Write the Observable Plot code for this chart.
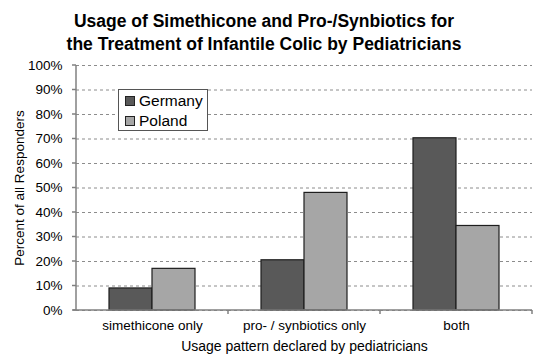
<!DOCTYPE html>
<html>
<head>
<meta charset="utf-8">
<script src="https://cdn.jsdelivr.net/npm/d3@7"></script>
<script src="https://cdn.jsdelivr.net/npm/@observablehq/plot@0.6"></script>
<style>
  html, body { margin: 0; padding: 0; background: #fff; }
  #wrap { position: relative; width: 550px; height: 359px; font-family: "Liberation Sans", Arial, sans-serif; }
  #title { box-sizing: border-box; height: 57px; padding-top: 10px; width: 528px; text-align: center;
           font-weight: bold; font-size: 17.5px; line-height: 23px; color: #000; }
  #legend { position: absolute; left: 118px; top: 89px; width: 90px; height: 42px; box-sizing: border-box;
            border: 1px solid #555; background: #fff; font-size: 15.5px; color: #000; padding: 1px 0 0 6px; }
  #legend .item { display: flex; align-items: center; height: 20px; }
  #legend .sw { width: 8px; height: 8px; border: 1px solid #222; margin-right: 4px; }
</style>
</head>
<body>
<div id="wrap">
  <div id="title">Usage of Simethicone and Pro-/Synbiotics for<br>the Treatment of Infantile Colic by Pediatricians</div>
  <div id="chart"></div>
  <div id="legend"></div>
</div>
<script>
const categories = ["simethicone only", "pro- / synbiotics only", "both"];
const countries = ["Germany", "Poland"];
const germany = [9, 20.5, 70.3];
const poland = [17, 48, 34.5];
const yTicks = [0, 10, 20, 30, 40, 50, 60, 70, 80, 90, 100];
const colors = ["#595959", "#a6a6a6"];

const data = categories.flatMap((c, i) => [
  {category: c, country: countries[0], value: germany[i]},
  {category: c, country: countries[1], value: poland[i]}
]);

// axis line + category boundary ticks, drawn per facet from the scales
let facetCounter = 0;
function categoryAxisLine(index, scales, values, dimensions) {
  const fx = scales.fx, y = scales.y;
  const key = (index && index.fx !== undefined) ? index.fx : categories[facetCounter++ % categories.length];
  const g = document.createElementNS("http://www.w3.org/2000/svg", "g");
  const y0 = y(0);
  const left = dimensions.marginLeft;
  const right = left + fx.bandwidth();
  const mk = (attrs) => {
    const l = document.createElementNS("http://www.w3.org/2000/svg", "line");
    for (const k in attrs) l.setAttribute(k, attrs[k]);
    l.setAttribute("stroke", "#808080");
    l.setAttribute("stroke-width", "1.5");
    g.appendChild(l);
  };
  const first = key === categories[0];
  mk({x1: first ? left - 3 : left, x2: right, y1: y0, y2: y0});
  mk({x1: right, x2: right, y1: y0, y2: y0 + 4});
  if (first) {
    mk({x1: left, x2: left, y1: y(100), y2: y0});
    for (const t of yTicks) mk({x1: left - 4, x2: left, y1: y(t), y2: y(t)});
  }
  return g;
}

const plot = Plot.plot({
  width: 550,
  height: 302,
  marginLeft: 75,
  marginRight: 17,
  marginTop: 8,
  marginBottom: 49,
  style: {fontFamily: "'Liberation Sans', Arial, sans-serif", fontSize: "13px", color: "#000", background: "#fff", overflow: "visible"},
  fx: {domain: categories, padding: 0, label: null},
  x: {domain: countries, paddingInner: 0, paddingOuter: 0.74, axis: null},
  y: {domain: [0, 100], ticks: yTicks},
  color: {domain: countries, range: colors},
  marks: [
    Plot.gridY(yTicks, {stroke: "#8c8c8c", strokeOpacity: 1, strokeDasharray: "3,3", strokeWidth: 1}),
    Plot.axisY(yTicks, {tickSize: 0, tickPadding: 14, tickFormat: d => d + "%", fontSize: 13.5, label: "Percent of all Responders", labelAnchor: "center", labelArrow: "none", labelOffset: 62}),
    Plot.barY(data, {fx: "category", x: "country", y: "value", fill: "country", stroke: "#1e1e1e", strokeWidth: 1.2}),
    Plot.axisFx({anchor: "bottom", tickSize: 0, tickPadding: 10, fontSize: 13.5, label: "Usage pattern declared by pediatricians", labelAnchor: "center", labelArrow: "none", labelOffset: 40}),
    categoryAxisLine
  ]
});
// slightly larger axis title for the x axis
plot.querySelectorAll("text").forEach(t => {
  if (t.textContent === "Usage pattern declared by pediatricians") t.setAttribute("font-size", "14");
});
document.getElementById("chart").appendChild(plot);

const color = plot.scale("color");
const legend = document.getElementById("legend");
for (const c of countries) {
  const item = document.createElement("div");
  item.className = "item";
  const sw = document.createElement("span");
  sw.className = "sw";
  sw.style.background = color.apply(c);
  item.appendChild(sw);
  item.appendChild(document.createTextNode(c));
  legend.appendChild(item);
}
</script>
</body>
</html>
